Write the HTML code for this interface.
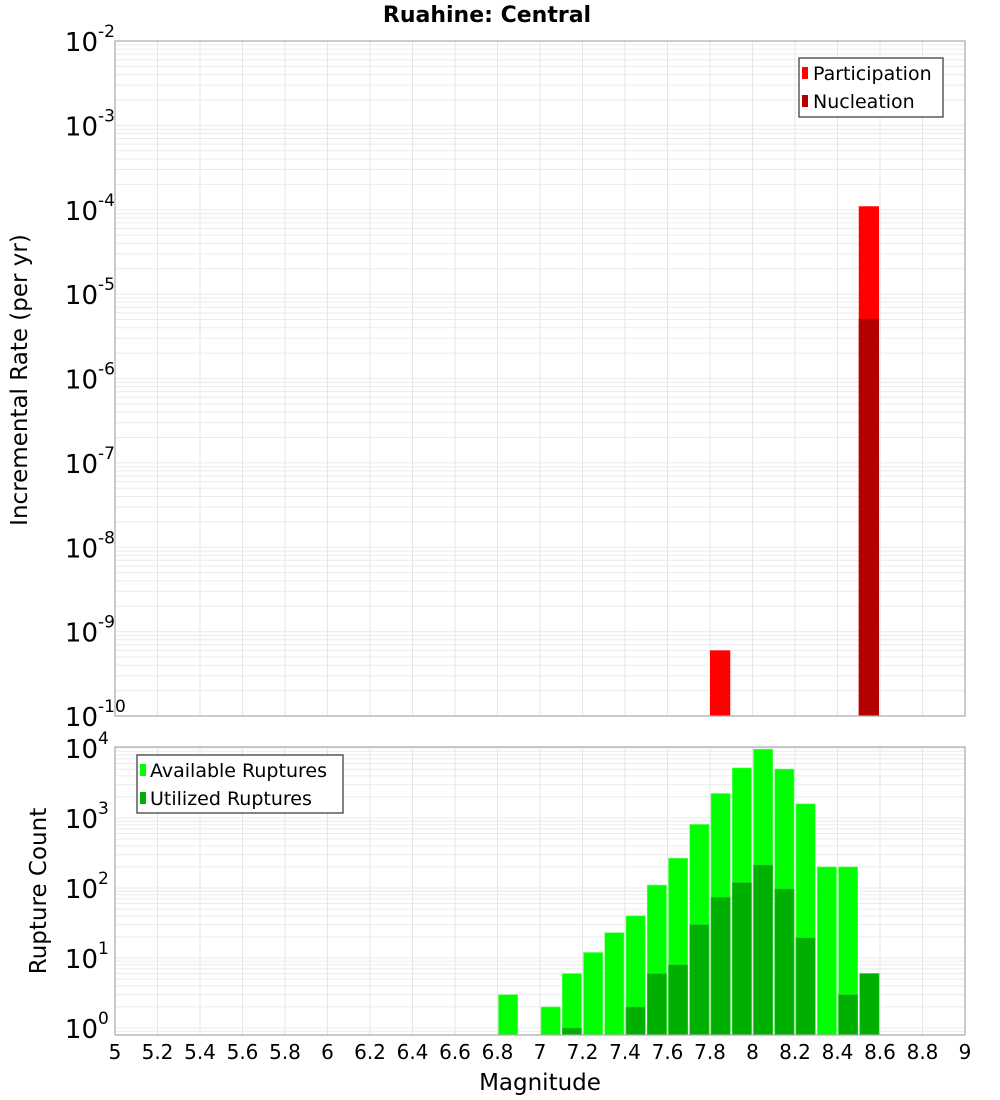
<!DOCTYPE html>
<html><head><meta charset="utf-8"><style>
body{margin:0;background:#fff;}
svg{display:block;font-family:"DejaVu Sans","Liberation Sans",sans-serif;}
</style></head><body>
<svg id="chart" width="1000" height="1100" viewBox="0 0 1000 1100">
<text x="487" y="22" text-anchor="middle" font-size="22" font-weight="bold">Ruahine: Central</text>
<g id="top"></g>
<g id="bot"></g>
<text transform="translate(27,380) rotate(-90)" text-anchor="middle" font-size="23">Incremental Rate (per yr)</text>
<text transform="translate(46,891) rotate(-90)" text-anchor="middle" font-size="23">Rupture Count</text>
<text x="540" y="1090" text-anchor="middle" font-size="23">Magnitude</text>
<g>
<rect x="799" y="58" width="144" height="59" fill="#fff" stroke="#333" stroke-width="1.2"/>
<rect x="802" y="67" width="6" height="12" fill="#ff0000"/>
<text x="813" y="80" font-size="19">Participation</text>
<rect x="802" y="95" width="6" height="12" fill="#b30000"/>
<text x="813" y="108" font-size="19">Nucleation</text>
</g>
<g>
<rect x="137" y="755" width="206" height="58" fill="#fff" stroke="#333" stroke-width="1.2"/>
<rect x="140" y="764" width="6" height="12" fill="#00ff00"/>
<text x="150" y="777" font-size="19">Available Ruptures</text>
<rect x="140" y="792" width="6" height="12" fill="#00b000"/>
<text x="150" y="805" font-size="19">Utilized Ruptures</text>
</g>
</svg>
<script>
// data
const rateMags = [7.85, 8.55];
const participation = [6.0e-10, 1.1e-4];
const nucleation = [0, 5.1e-6];
const countMags = [6.85,7.05,7.15,7.25,7.35,7.45,7.55,7.65,7.75,7.85,7.95,8.05,8.15,8.25,8.35,8.45,8.55];
const available = [3,2,6,12,23,40,110,266,810,2240,5200,9600,5000,1590,200,200,6];
const utilized = [0,0,1,0,0,2,6,8,30,74,120,213,97,19.5,0,3,6];
const xTicks = [5,5.2,5.4,5.6,5.8,6,6.2,6.4,6.6,6.8,7,7.2,7.4,7.6,7.8,8,8.2,8.4,8.6,8.8,9];
const topExps = [-2,-3,-4,-5,-6,-7,-8,-9,-10];
const botExps = [0,1,2,3,4];

const NS='http://www.w3.org/2000/svg';
const X0=115,X1=965;
const xs=m=>X0+(m-5)/4*(X1-X0);
const BW=(X1-X0)/40;
function mk(tag,attrs,parent){const e=document.createElementNS(NS,tag);for(const k in attrs)e.setAttribute(k,attrs[k]);parent.appendChild(e);return e;}

function panel(g,top,bottom,yFn,lo,hi,exps,labPrefix){
  mk('rect',{x:X0,y:top,width:X1-X0,height:bottom-top,fill:'#fff'},g);
  for(let d=lo;d<hi;d++){for(let k=2;k<=10;k++){const y=yFn(k*Math.pow(10,d));if(y>=top&&y<=bottom){const l=mk('line',{x1:X0,x2:X1,y1:y,y2:y,stroke:'#ebebeb','stroke-width':1},g);
    
    }}}
  xTicks.forEach(t=>{const x=xs(t);const l=mk('line',{x1:x,x2:x,y1:top,y2:bottom,stroke:'#e6e6e6','stroke-width':1},g);
    
    });
  exps.forEach(e=>{const y=yFn(Math.pow(10,e));const t=mk('text',{x:98,y:y+10,'text-anchor':'end','font-size':26},g);t.textContent='10';
    
    
    const s=mk('text',{x:98,y:y-4,'font-size':17},g);s.textContent=String(e);
    
    });
}
function frame(g,top,bottom){mk('rect',{x:X0,y:top,width:X1-X0,height:bottom-top,fill:'none',stroke:'#aaa','stroke-width':1.2},g);}

// top panel
const T0=41,T1=716;
const yTop=v=>T0+(-2-Math.log10(v))*(T1-T0)/8;
const gt=document.getElementById('top');
panel(gt,T0,T1,yTop,-10,-2,topExps,'top-y');
rateMags.forEach((m,i)=>{
  const x=xs(m)-BW/2;
  if(participation[i]>0){const y=yTop(participation[i]);const r=mk('rect',{x:x,y:y,width:BW-1,height:T1-y,fill:'#ff0000'},gt);
    
    }
  if(nucleation[i]>0){const y=yTop(nucleation[i]);const r=mk('rect',{x:x,y:y,width:BW-1,height:T1-y,fill:'#b30000'},gt);
    
    }
});
frame(gt,T0,T1);

// bottom panel
const B0=747,B1=1035;
const yBot=v=>1028-Math.log10(v)*70;
const gb=document.getElementById('bot');
panel(gb,B0,B1,yBot,-1,4,botExps,'bottom-y');
countMags.forEach((m,i)=>{
  const x=xs(m)-BW/2+1;
  if(available[i]>0){const y=yBot(available[i]);const r=mk('rect',{x:x,y:y,width:BW-2,height:B1-y,fill:'#00ff00',stroke:'#66ff66','stroke-width':0.6},gb);
    
    }
  if(utilized[i]>0){const y=yBot(utilized[i]);const r=mk('rect',{x:x,y:y,width:BW-2,height:B1-y,fill:'#00b000',stroke:'#33cc33','stroke-width':0.6},gb);
    
    }
});
frame(gb,B0,B1);
xTicks.forEach(t=>{const tx=mk('text',{x:xs(t),y:1059,'text-anchor':'middle','font-size':20},gb);tx.textContent=String(t);
  
  });
</script>
</body></html>
